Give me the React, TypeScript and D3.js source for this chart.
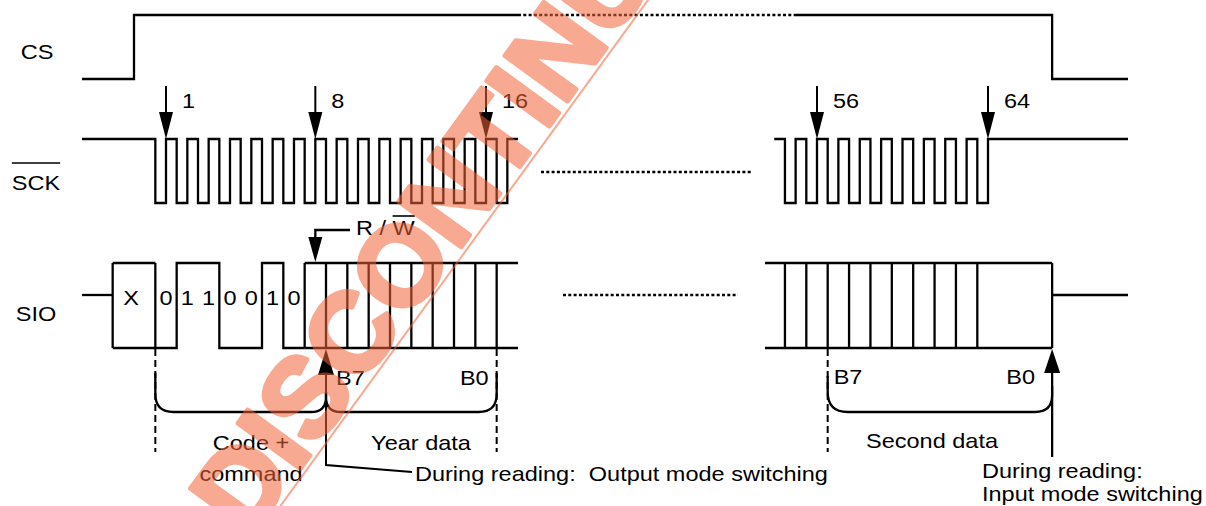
import React from "react";
import * as d3 from "d3";

const W = 1206;
const H = 506;

// ---- data ----
const signalNames = ["CS", "SCK", "SIO"];
const clockMarksLeft = [1, 8, 16];
const clockMarksRight = [56, 64];
const commandBits = ["0", "1", "1", "0", "0", "1", "0"];
const commandLevels = [0, 1, 1, 0, 0, 1, 0];
const groupLabels = ["Code +", "command", "Year data", "Second data"];
const bitLabels = ["B7", "B0"];
const notes = ["During reading:  Output mode switching", "During reading:", "Input mode switching"];
const watermark = "DISCONTINUED";

const FONT = "'Liberation Sans', Arial, Helvetica, sans-serif";
const SX = 1.12;
const FS = 21;

// clock index -> x (two sections of the timeline)
const xL = d3.scaleLinear().domain([1, 16]).range([166, 486]);
const xR = d3.scaleLinear().domain([56, 64]).range([817, 988]);

const yCS = { hi: 15, lo: 79 };
const ySCK = { hi: 139, lo: 203 };
const ySIO = { hi: 263, mid: 295, lo: 348 };
const X0 = 82;
const X1 = 1128;
const csFall = xR(67);

const line = d3.line<[number, number]>();

function Txt({ x, y, anchor = "start", size = FS, fill = "#000", children }: any) {
  return (
    <text
      transform={`translate(${x},${y}) scale(${SX},1)`}
      textAnchor={anchor}
      fontSize={size}
      fontFamily={FONT}
      fill={fill}
      style={{ whiteSpace: "pre" }}
    >
      {children}
    </text>
  );
}

function DownArrow({ x }: { x: number }) {
  return (
    <g>
      <line x1={x} y1={86} x2={x} y2={116} stroke="#000" strokeWidth={2} />
      <path d={`M${x - 7},112 L${x + 7},112 L${x},139 Z`} fill="#000" />
    </g>
  );
}

function UpArrow({ x, tip, base }: { x: number; tip: number; base: number }) {
  return <path d={`M${x - 8},${base} L${x + 8},${base} L${x},${tip} Z`} fill="#000" />;
}

function brace(x0: number, yA: number, x1: number, yB: number, r0: number, r1: number) {
  const yb = 412;
  return `M${x0},${yA} L${x0},${yb - r0} Q${x0},${yb} ${x0 + r0},${yb} L${x1 - r1},${yb} Q${x1},${yb} ${x1},${yb - r1} L${x1},${yB}`;
}

export default function App() {
  // CS
  const csA: [number, number][] = [
    [X0, yCS.lo], [xL(-0.5), yCS.lo], [xL(-0.5), yCS.hi], [xL(17.5), yCS.hi],
  ];
  const csB: [number, number][] = [
    [794, yCS.hi], [csFall, yCS.hi], [csFall, yCS.lo], [X1, yCS.lo],
  ];

  // SCK left
  const sckL: [number, number][] = [[X0, ySCK.hi], [xL(0.5), ySCK.hi], [xL(0.5), ySCK.lo]];
  for (let k = 1; k <= 16; k++) {
    sckL.push([xL(k), ySCK.lo], [xL(k), ySCK.hi], [xL(k + 0.5), ySCK.hi], [xL(k + 0.5), ySCK.lo]);
  }
  sckL.push([xL(17), ySCK.lo], [xL(17), ySCK.hi], [xL(17.5), ySCK.hi]);

  // SCK right
  const sckR: [number, number][] = [[xR(54), ySCK.hi], [xR(54.5), ySCK.hi], [xR(54.5), ySCK.lo]];
  for (let k = 55; k <= 63; k++) {
    sckR.push([xR(k), ySCK.lo], [xR(k), ySCK.hi], [xR(k + 0.5), ySCK.hi], [xR(k + 0.5), ySCK.lo]);
  }
  sckR.push([xR(64), ySCK.lo], [xR(64), ySCK.hi], [X1, ySCK.hi]);

  // SIO command bits waveform (bottom / level line)
  const sioCmd: [number, number][] = [[xL(-1.5), ySIO.lo], [xL(0.5), ySIO.lo]];
  let prev = 0;
  commandLevels.forEach((lv, i) => {
    const xs = xL(0.5 + i);
    const y = lv ? ySIO.hi : ySIO.lo;
    if (lv !== prev) sioCmd.push([xs, prev ? ySIO.hi : ySIO.lo], [xs, y]);
    sioCmd.push([xL(1.5 + i), y]);
    prev = lv;
  });
  if (prev) sioCmd.push([xL(7.5), ySIO.lo]);

  const busLeftV = d3.range(0, 10).map((j) => xL(7.5 + j));
  const busRightV = d3.range(0, 10).map((j) => xR(54.5 + j));
  const busRightStart = 765;

  const stroke = { stroke: "#000", strokeWidth: 2.3, fill: "none", strokeLinejoin: "miter" as const };
  const dotted = { stroke: "#000", strokeWidth: 2.5, strokeDasharray: "3,2.3", fill: "none" };
  const dashed = { stroke: "#000", strokeWidth: 2, strokeDasharray: "7,4", fill: "none" };

  const sckTextW = (0.667 + 0.722 + 0.667) * FS * SX;
  const rslashW = (0.722 + 0.278 + 0.278 + 0.278) * FS * SX;
  const wW = 0.944 * FS * SX;
  const rwX = 356;

  return (
    <svg width={W} height={H} style={{ position: "absolute", left: 0, top: 0, background: "#fff" }}>
      <rect width={W} height={H} fill="#fff" />

      {/* signal names */}
      <Txt x={37} y={59} anchor="middle">{signalNames[0]}</Txt>
      <Txt x={36} y={190} anchor="middle">{signalNames[1]}</Txt>
      <line x1={36 - sckTextW / 2} x2={36 + sckTextW / 2} y1={163} y2={163} stroke="#000" strokeWidth={1.6} />
      <Txt x={36} y={321} anchor="middle">{signalNames[2]}</Txt>

      {/* CS */}
      <path d={line(csA)!} {...stroke} />
      <line x1={xL(17.5)} x2={794} y1={yCS.hi} y2={yCS.hi} {...dotted} />
      <path d={line(csB)!} {...stroke} />

      {/* SCK */}
      <path d={line(sckL)!} {...stroke} />
      <line x1={541} x2={753} y1={172} y2={172} {...dotted} />
      <path d={line(sckR)!} {...stroke} />
      {clockMarksLeft.map((c) => (
        <g key={c}>
          <DownArrow x={xL(c)} />
          <Txt x={xL(c) + 16} y={108}>{String(c)}</Txt>
        </g>
      ))}
      {clockMarksRight.map((c) => (
        <g key={c}>
          <DownArrow x={xR(c)} />
          <Txt x={xR(c) + 16} y={108}>{String(c)}</Txt>
        </g>
      ))}

      {/* SIO */}
      <line x1={X0} x2={xL(-1.5)} y1={ySIO.mid} y2={ySIO.mid} {...stroke} />
      <line x1={xL(-1.5)} x2={xL(0.5)} y1={ySIO.hi} y2={ySIO.hi} {...stroke} />
      <line x1={xL(-1.5)} x2={xL(-1.5)} y1={ySIO.hi} y2={ySIO.lo} {...stroke} />
      <line x1={xL(0.5)} x2={xL(0.5)} y1={ySIO.hi} y2={ySIO.lo} {...stroke} />
      <path d={line(sioCmd)!} {...stroke} />
      <Txt x={xL(-0.5) - 3} y={305} anchor="middle">X</Txt>
      {commandBits.map((b, i) => (
        <Txt key={i} x={xL(1 + i)} y={305} anchor="middle">{b}</Txt>
      ))}
      {/* left bus */}
      <line x1={xL(7.5)} x2={xL(17.5)} y1={ySIO.hi} y2={ySIO.hi} {...stroke} />
      <line x1={xL(7.5)} x2={xL(17.5)} y1={ySIO.lo} y2={ySIO.lo} {...stroke} />
      {busLeftV.map((x, i) => (
        <line key={i} x1={x} x2={x} y1={ySIO.hi} y2={ySIO.lo} {...stroke} />
      ))}
      <line x1={563} x2={738} y1={ySIO.mid} y2={ySIO.mid} {...dotted} />
      {/* right bus */}
      <line x1={busRightStart} x2={csFall} y1={ySIO.hi} y2={ySIO.hi} {...stroke} />
      <line x1={busRightStart} x2={csFall} y1={ySIO.lo} y2={ySIO.lo} {...stroke} />
      {busRightV.map((x, i) => (
        <line key={i} x1={x} x2={x} y1={ySIO.hi} y2={ySIO.lo} {...stroke} />
      ))}
      <line x1={csFall} x2={csFall} y1={ySIO.hi} y2={ySIO.lo} {...stroke} />
      <line x1={csFall} x2={X1} y1={ySIO.mid} y2={ySIO.mid} {...stroke} />

      {/* R/W marker */}
      <path d={`M350,230 L${xL(8)},230 L${xL(8)},240`} {...stroke} />
      <path d={`M${xL(8) - 7},237 L${xL(8) + 7},237 L${xL(8)},262 Z`} fill="#000" />
      <Txt x={rwX} y={235}>{"R / "}</Txt>
      <Txt x={rwX + rslashW} y={235}>W</Txt>
      <line x1={rwX + rslashW} x2={rwX + rslashW + wW} y1={216} y2={216} stroke="#000" strokeWidth={1.6} />

      {/* dashed guides */}
      {[xL(0.5), xL(16.5), xR(56.5)].map((x, i) => (
        <line key={i} x1={x} x2={x} y1={349} y2={452} {...dashed} />
      ))}

      {/* braces */}
      <path d={brace(xL(0.5), 373, xL(8.5), 392, 18, 15)} {...stroke} />
      <path d={brace(xL(8.5), 392, xL(16.5), 373, 15, 18)} {...stroke} />
      <path d={brace(xR(56.5), 376, csFall, 386, 20, 17)} {...stroke} />

      {/* bit labels */}
      <Txt x={xL(8.5) + 10} y={385}>{bitLabels[0]}</Txt>
      <Txt x={xL(16.5) - 8} y={385} anchor="end">{bitLabels[1]}</Txt>
      <Txt x={xR(56.5) + 6} y={384}>{bitLabels[0]}</Txt>
      <Txt x={csFall - 17} y={384} anchor="end">{bitLabels[1]}</Txt>

      {/* group labels */}
      <Txt x={251} y={450} anchor="middle">{groupLabels[0]}</Txt>
      <Txt x={251} y={481} anchor="middle">{groupLabels[1]}</Txt>
      <Txt x={421} y={450} anchor="middle">{groupLabels[2]}</Txt>
      <Txt x={932} y={448} anchor="middle">{groupLabels[3]}</Txt>

      {/* mode switching arrows */}
      <UpArrow x={xL(8.5)} tip={349} base={375} />
      <path d={`M${xL(8.5)},372 L${xL(8.5)},465 L412,472`} {...stroke} strokeWidth={2} />
      <Txt x={415} y={481}>{notes[0]}</Txt>
      <UpArrow x={csFall} tip={349} base={373} />
      <line x1={csFall} x2={csFall} y1={370} y2={457} {...stroke} />
      <Txt x={982} y={478}>{notes[1]}</Txt>
      <Txt x={982} y={501}>{notes[2]}</Txt>

      {/* watermark */}
      <g transform="translate(250,541) rotate(-54)" opacity={0.55}>
        <text
          x={0}
          y={-2}
          fontSize={112}
          fontWeight="bold"
          fontFamily={FONT}
          fill="#F2633A"
          stroke="#F2633A"
          strokeWidth={5}
          strokeLinejoin="round"
        >
          {watermark}
        </text>
        <line x1={-20} x2={760} y1={4} y2={4} stroke="#F2633A" strokeWidth={2} />
      </g>
    </svg>
  );
}
